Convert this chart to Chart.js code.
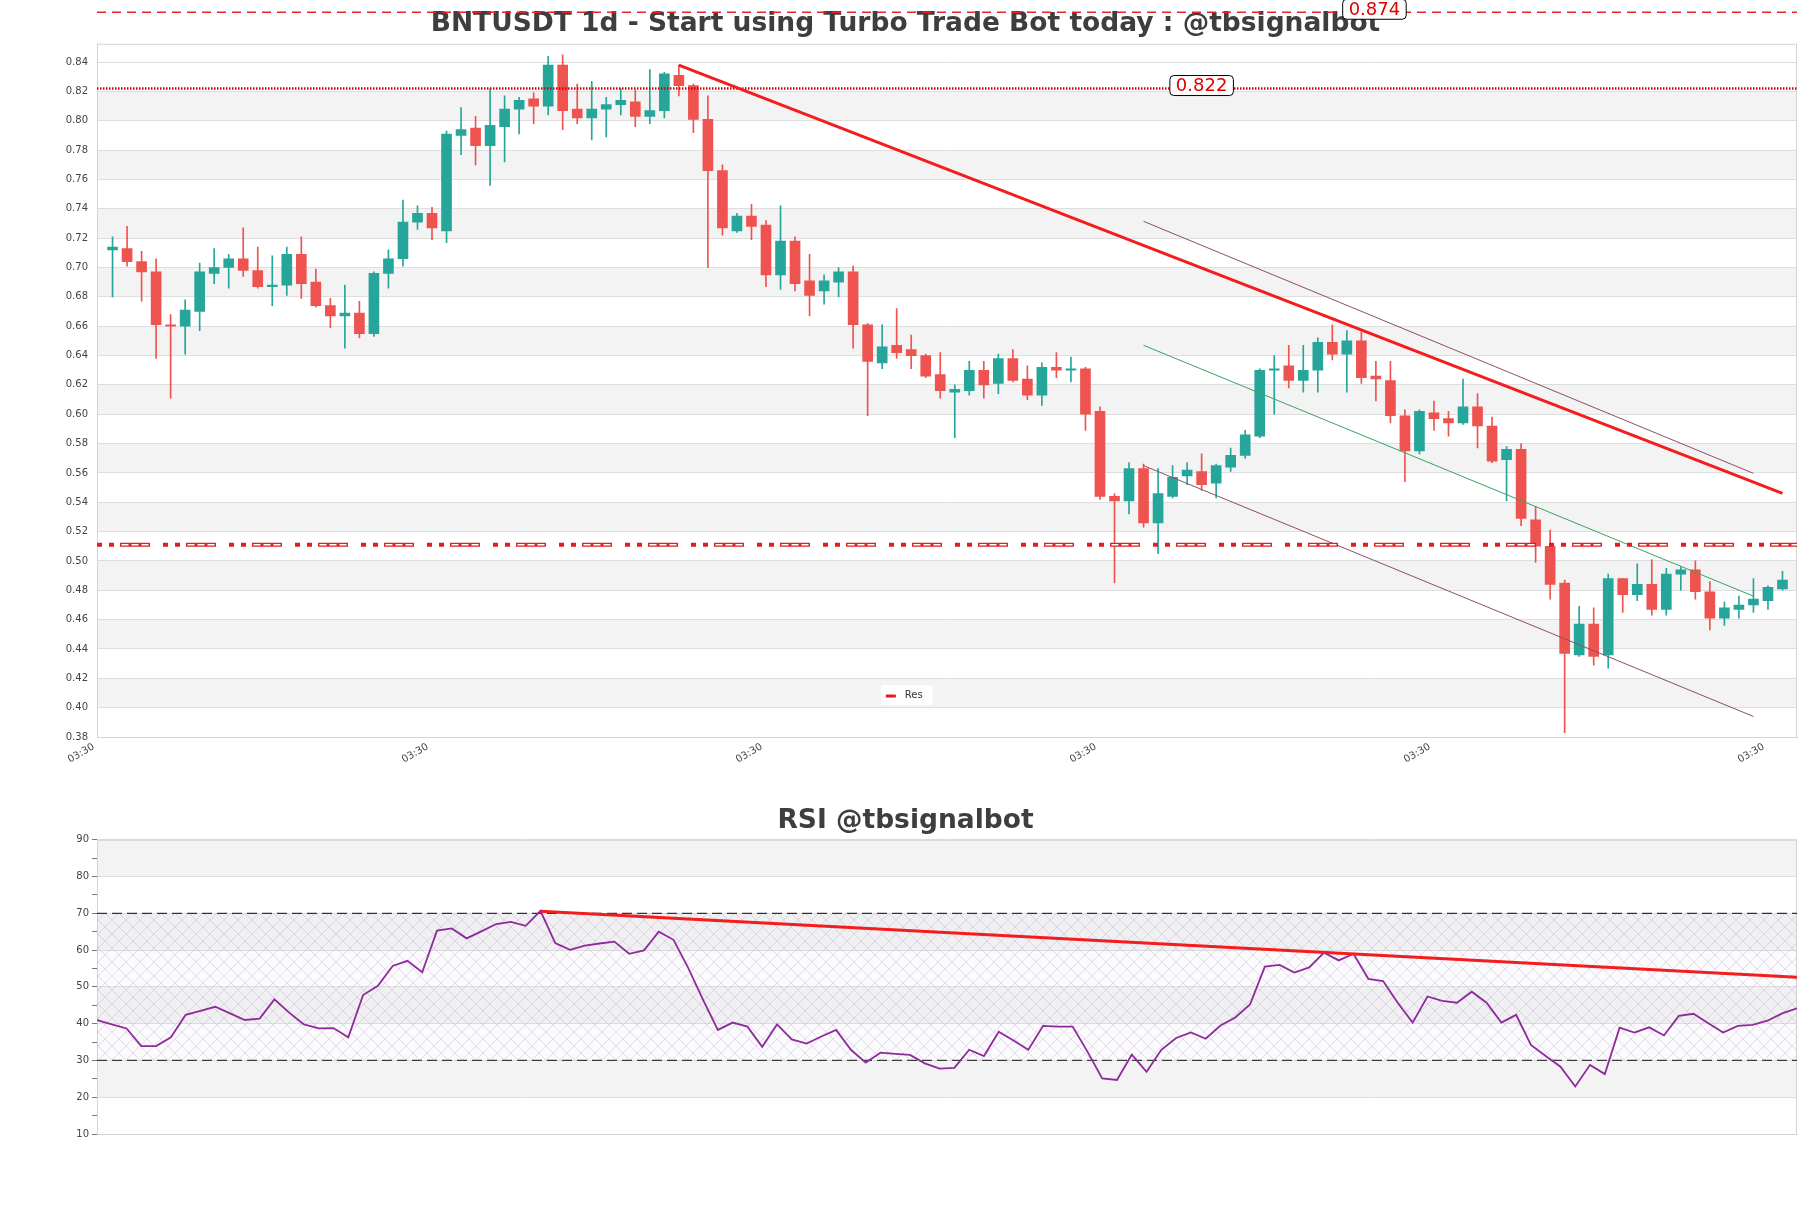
<!DOCTYPE html>
<html>
<head>
<meta charset="UTF-8">
<title>BNTUSDT 1d</title>
<script src="https://cdn.jsdelivr.net/npm/chart.js@4.4.1/dist/chart.umd.min.js"></script>
<style>
  body { margin: 0; background: #fff; }
  canvas { position: absolute; left: 0; }
  #priceChart { top: 0; }
  #rsiChart { top: 780px; }
</style>
</head>
<body>
<canvas id="priceChart" width="1811" height="780"></canvas>
<canvas id="rsiChart" width="1811" height="428"></canvas>
<script>
// daily candles
const opens = [0.712,0.713,0.704,0.697,0.661,0.660,0.670,0.696,0.700,0.706,0.698,0.687,0.688,0.709,0.690,0.674,0.667,0.669,0.655,0.696,
  0.706,0.731,0.737,0.725,0.790,0.795,0.783,0.796,0.808,0.815,0.810,0.838,0.808,0.802,0.808,0.811,0.813,0.803,0.807,0.831,
  0.824,0.801,0.766,0.725,0.735,0.729,0.695,0.718,0.691,0.684,0.690,0.697,0.661,0.635,0.647,0.644,0.640,0.627,0.615,0.616,
  0.630,0.621,0.638,0.624,0.613,0.632,0.630,0.631,0.602,0.544,0.541,0.563,0.526,0.544,0.558,0.561,0.553,0.564,0.572,0.585,
  0.630,0.633,0.623,0.630,0.649,0.641,0.650,0.626,0.623,0.599,0.575,0.601,0.597,0.594,0.605,0.592,0.569,0.576,0.528,0.510,
  0.485,0.436,0.457,0.436,0.488,0.477,0.484,0.467,0.491,0.494,0.479,0.461,0.467,0.470,0.473,0.481];
const highs = [0.721,0.728,0.711,0.706,0.668,0.678,0.703,0.713,0.709,0.727,0.714,0.708,0.714,0.721,0.699,0.679,0.688,0.677,0.697,0.712,
  0.746,0.742,0.741,0.793,0.809,0.803,0.822,0.817,0.816,0.819,0.844,0.845,0.825,0.827,0.816,0.822,0.821,0.835,0.833,0.838,
  0.825,0.817,0.770,0.737,0.743,0.732,0.742,0.721,0.709,0.695,0.700,0.701,0.662,0.661,0.672,0.654,0.641,0.642,0.620,0.636,
  0.636,0.641,0.644,0.633,0.635,0.642,0.639,0.632,0.605,0.546,0.567,0.566,0.563,0.565,0.567,0.573,0.566,0.577,0.589,0.631,
  0.640,0.647,0.647,0.652,0.661,0.657,0.656,0.636,0.636,0.603,0.603,0.609,0.602,0.624,0.614,0.598,0.578,0.580,0.537,0.521,
  0.487,0.469,0.468,0.491,0.488,0.498,0.501,0.495,0.496,0.500,0.486,0.472,0.476,0.488,0.483,0.493];
const lows = [0.680,0.701,0.677,0.638,0.611,0.641,0.657,0.689,0.686,0.694,0.686,0.674,0.681,0.679,0.673,0.659,0.645,0.652,0.653,0.686,
  0.701,0.726,0.719,0.717,0.777,0.770,0.756,0.772,0.791,0.798,0.804,0.794,0.798,0.787,0.789,0.804,0.796,0.798,0.802,0.817,
  0.792,0.700,0.722,0.724,0.719,0.687,0.685,0.684,0.667,0.675,0.680,0.645,0.599,0.631,0.638,0.631,0.625,0.611,0.584,0.613,
  0.611,0.614,0.622,0.610,0.606,0.625,0.622,0.589,0.542,0.485,0.532,0.523,0.505,0.543,0.552,0.548,0.543,0.561,0.570,0.584,
  0.600,0.618,0.615,0.615,0.637,0.615,0.621,0.609,0.594,0.554,0.573,0.589,0.585,0.593,0.577,0.567,0.541,0.524,0.499,0.474,
  0.383,0.435,0.429,0.427,0.465,0.473,0.463,0.463,0.480,0.474,0.453,0.456,0.461,0.465,0.467,0.480];
const closes = [0.714,0.704,0.697,0.661,0.660,0.671,0.697,0.700,0.706,0.698,0.687,0.688,0.709,0.689,0.674,0.667,0.669,0.655,0.696,0.706,
  0.731,0.737,0.727,0.791,0.794,0.783,0.797,0.808,0.814,0.810,0.838,0.807,0.802,0.808,0.811,0.814,0.803,0.807,0.832,0.824,
  0.801,0.766,0.727,0.735,0.728,0.695,0.718,0.689,0.681,0.691,0.697,0.661,0.636,0.646,0.642,0.640,0.626,0.616,0.617,0.630,
  0.620,0.638,0.623,0.613,0.632,0.630,0.631,0.600,0.544,0.541,0.563,0.526,0.546,0.557,0.562,0.552,0.565,0.572,0.586,0.630,
  0.631,0.623,0.630,0.649,0.641,0.650,0.625,0.624,0.599,0.575,0.602,0.597,0.594,0.605,0.592,0.568,0.576,0.529,0.510,0.484,
  0.437,0.457,0.435,0.488,0.477,0.484,0.467,0.491,0.494,0.479,0.461,0.468,0.470,0.474,0.482,0.487];

const rsiValues = [41.0,39.8,38.7,33.9,33.9,36.3,42.4,43.5,44.6,42.8,41.0,41.4,46.6,43.0,39.8,38.7,38.8,36.3,47.8,50.3,
  55.7,57.1,54.0,65.3,65.9,63.2,65.1,67.1,67.7,66.6,70.7,61.9,60.1,61.2,61.8,62.3,59.0,59.9,65.0,62.8,
  55.1,46.5,38.3,40.3,39.2,33.7,39.8,35.7,34.6,36.5,38.3,32.9,29.4,32.1,31.8,31.5,29.2,27.8,28.0,32.9,
  31.2,37.8,35.4,32.9,39.4,39.2,39.2,32.4,25.1,24.7,31.6,26.9,32.9,36.1,37.6,35.9,39.5,41.7,45.2,55.5,
  56.0,53.9,55.3,59.3,57.2,59.0,52.2,51.6,45.6,40.3,47.4,46.2,45.7,48.7,45.7,40.3,42.4,34.2,31.2,28.3,
  22.9,28.8,26.3,38.9,37.6,39.0,36.8,42.1,42.7,40.1,37.6,39.4,39.7,40.8,42.8,44.2];

// axis ticks
const xTickPos = [-1.3, 21.7, 44.7, 67.7, 90.7, 113.7];
const xTickLabels = ['03:30', '03:30', '03:30', '03:30', '03:30', '03:30'];
const xMin = -1.07, xMax = 116.0;

// drawn levels and trend lines
const levels = [0.874, 0.822, 0.511];
const levelLabelX = [86.9, 75.0];
const resX = [39, 115], resY = [0.838, 0.546];
const chanX = [71, 113];
const chanUpper = [0.7315, 0.5597];
const chanMid = [0.647, 0.476];
const chanLower = [0.565, 0.394];
const rsiTrendX = [30, 115], rsiTrendY = [70.6, 52.6];
const rsiBounds = [30, 70];

Chart.defaults.font.family = "'DejaVu Sans', sans-serif";
Chart.defaults.color = '#444';

const UP = '#26a69a', DOWN = '#ef5350';
const idx = opens.map((_, i) => i);
const candleColor = idx.map(i => closes[i] >= opens[i] ? UP : DOWN);

function pts(xs, ys) { return xs.map((x, i) => ({ x: x, y: ys[i] })); }
function flat(v, a, b) { return [{ x: a, y: v }, { x: b, y: v }]; }

// white background + alternating grey bands between ticks, frame round the plot
const bands = {
  id: 'bands',
  beforeDraw(chart, args, opts) {
    const ctx = chart.ctx, a = chart.chartArea, y = chart.scales.y;
    ctx.save();
    ctx.fillStyle = '#fff';
    ctx.fillRect(0, 0, chart.width, chart.height);
    ctx.fillStyle = '#f3f3f3';
    for (let v = opts.from; v < opts.to - 1e-9; v += opts.step) {
      if (Math.round(v / opts.step) % 2 !== 0) continue;
      const y0 = y.getPixelForValue(v), y1 = y.getPixelForValue(v + opts.step);
      ctx.fillRect(a.left, y1, a.right - a.left, y0 - y1);
    }
    ctx.restore();
  },
  beforeDatasetsDraw(chart) {
    const ctx = chart.ctx, a = chart.chartArea;
    ctx.save();
    ctx.strokeStyle = '#d4d4d4';
    ctx.lineWidth = 1;
    ctx.strokeRect(a.left + 0.5, a.top + 0.5, a.right - a.left - 1, a.bottom - a.top);
    ctx.restore();
  }
};

// boxed price labels and the small "Res" legend
const priceNotes = {
  id: 'priceNotes',
  afterDraw(chart) {
    const ctx = chart.ctx, x = chart.scales.x, y = chart.scales.y;
    ctx.save();
    ctx.font = "18px 'DejaVu Sans'";
    ctx.textAlign = 'center';
    ctx.textBaseline = 'middle';
    levelLabelX.forEach((lx, i) => {
      const txt = levels[i].toFixed(3);
      const cx = x.getPixelForValue(lx), cy = y.getPixelForValue(levels[i]) - 3;
      const w = ctx.measureText(txt).width + 12, h = 20;
      ctx.beginPath();
      ctx.roundRect(cx - w / 2, cy - h / 2, w, h, 4);
      ctx.fillStyle = '#fff';
      ctx.fill();
      ctx.strokeStyle = '#000';
      ctx.lineWidth = 1;
      ctx.stroke();
      ctx.fillStyle = '#e00000';
      ctx.fillText(txt, cx, cy + 1);
    });
    // legend
    const lx = x.getPixelForValue(54.7), ly = y.getPixelForValue(0.4086);
    ctx.fillStyle = 'rgba(255,255,255,0.9)';
    ctx.fillRect(lx - 26, ly - 10, 52, 20);
    ctx.strokeStyle = '#e01b1b';
    ctx.lineWidth = 3;
    ctx.beginPath();
    ctx.moveTo(lx - 21, ly + 1);
    ctx.lineTo(lx - 11, ly + 1);
    ctx.stroke();
    ctx.font = "10px 'DejaVu Sans'";
    ctx.textAlign = 'left';
    ctx.fillStyle = '#333';
    ctx.fillText('Res', lx - 2, ly);
    ctx.restore();
  }
};

const lineBase = { type: 'line', pointRadius: 0, tension: 0, fill: false, borderCapStyle: 'butt' };
// empty right-hand axis only used as the right margin
const rightMargin = {
  type: 'linear', position: 'right', afterFit: s => { s.width = 14; },
  ticks: { display: false }, grid: { display: false, drawTicks: false }, border: { display: false }
};

new Chart(document.getElementById('priceChart'), {
  type: 'bar',
  data: {
    datasets: [
      Object.assign({}, lineBase, { label: 'Res', data: pts(resX, resY), borderColor: '#f41c1c', borderWidth: 3, order: 0 }),
      Object.assign({}, lineBase, { label: 'lvl3w', data: flat(levels[2], xMin, xMax), borderColor: '#fff', borderWidth: 1.6,
        borderDash: [7, 3, 7, 3, 7, 39], borderDashOffset: 41.5, order: 1 }),
      Object.assign({}, lineBase, { label: 'lvl3', data: flat(levels[2], xMin, xMax), borderColor: '#e02020', borderWidth: 4,
        borderDash: [5, 7, 5, 6, 30, 13], order: 2 }),
      Object.assign({}, lineBase, { label: 'lvl2', data: flat(levels[1], xMin, xMax), borderColor: '#d90000', borderWidth: 2.5,
        borderDash: [1.5, 1.5], order: 2 }),
      Object.assign({}, lineBase, { label: 'lvl1', data: flat(levels[0], xMin, xMax), borderColor: '#e52525', borderWidth: 1.5,
        borderDash: [9, 6], clip: false, order: 2 }),
      Object.assign({}, lineBase, { label: 'upper', data: pts(chanX, chanUpper), borderColor: '#8d4f61', borderWidth: 1, order: 2 }),
      Object.assign({}, lineBase, { label: 'mid', data: pts(chanX, chanMid), borderColor: '#3aa362', borderWidth: 1, order: 2 }),
      Object.assign({}, lineBase, { label: 'lower', data: pts(chanX, chanLower), borderColor: '#8d4f61', borderWidth: 1, order: 2 }),
      {
        label: 'body', data: idx.map(i => ({ x: i, y: [opens[i], closes[i]] })),
        backgroundColor: candleColor, borderWidth: 0, barThickness: 10, minBarLength: 1, grouped: false, order: 3
      },
      {
        label: 'wick', data: idx.map(i => ({ x: i, y: [lows[i], highs[i]] })),
        backgroundColor: candleColor, borderWidth: 0, barThickness: 1, grouped: false, order: 4
      }
    ]
  },
  options: {
    responsive: false,
    animation: false,
    events: [],
    layout: { padding: 0 },
    plugins: {
      legend: { display: false },
      tooltip: { enabled: false },
      title: {
        display: true,
        text: 'BNTUSDT 1d - Start using Turbo Trade Bot today : @tbsignalbot',
        font: { size: 26.5, weight: 'bold' },
        color: '#3e3e3e',
        padding: { top: 8, bottom: 4 }
      },
      bands: { from: 0.38, to: 0.84, step: 0.02 }
    },
    scales: {
      x: {
        type: 'linear', min: xMin, max: xMax, offset: false,
        afterBuildTicks: s => { s.ticks = xTickPos.map(v => ({ value: v })); },
        afterFit: s => { s.height = 43; },
        ticks: { autoSkip: false, minRotation: 30, maxRotation: 30, padding: 4, font: { size: 10 }, color: '#444',
          callback: (v, i) => xTickLabels[i] },
        grid: { display: false, drawTicks: false },
        border: { color: '#d4d4d4' }
      },
      y: {
        min: 0.38, max: 0.8525,
        afterFit: s => { s.width = 97; },
        ticks: { stepSize: 0.02, includeBounds: false, padding: 9, font: { size: 10 }, color: '#444',
          callback: v => v.toFixed(2) },
        grid: { color: '#dedede', drawTicks: false },
        border: { color: '#d4d4d4' }
      },
      yMargin: rightMargin
    }
  },
  plugins: [bands, priceNotes]
});

// crosshatch for the 30-70 zone
const hatchCanvas = document.createElement('canvas');
hatchCanvas.width = 14; hatchCanvas.height = 14;
const hc = hatchCanvas.getContext('2d');
hc.fillStyle = 'rgba(200,185,220,0.08)';
hc.fillRect(0, 0, 14, 14);
hc.strokeStyle = 'rgba(165,145,185,0.35)';
hc.lineWidth = 0.8;
hc.beginPath();
hc.moveTo(0, 0); hc.lineTo(14, 14);
hc.moveTo(14, 0); hc.lineTo(0, 14);
hc.stroke();
const hatch = hc.createPattern(hatchCanvas, 'repeat');

const rsiLast = rsiValues.length - 1;

new Chart(document.getElementById('rsiChart'), {
  type: 'line',
  data: {
    datasets: [
      Object.assign({}, lineBase, { label: 'trend', data: pts(rsiTrendX, rsiTrendY), borderColor: '#f41c1c', borderWidth: 3, order: 0 }),
      Object.assign({}, lineBase, { label: 'RSI', data: rsiValues.map((v, i) => ({ x: i, y: v })), borderColor: '#8e2a9c', borderWidth: 1.8, order: 1 }),
      Object.assign({}, lineBase, { label: 'ob', data: flat(rsiBounds[1], 0, rsiLast), borderColor: '#333', borderWidth: 1.2,
        borderDash: [10, 5], fill: { value: rsiBounds[0] }, backgroundColor: hatch, order: 2 }),
      Object.assign({}, lineBase, { label: 'os', data: flat(rsiBounds[0], 0, rsiLast), borderColor: '#333', borderWidth: 1.2,
        borderDash: [10, 5], order: 2 })
    ]
  },
  options: {
    responsive: false,
    animation: false,
    events: [],
    layout: { padding: 0 },
    plugins: {
      legend: { display: false },
      tooltip: { enabled: false },
      title: {
        display: true,
        text: 'RSI @tbsignalbot',
        font: { size: 26.5, weight: 'bold' },
        color: '#3e3e3e',
        padding: { top: 25, bottom: 3 }
      },
      bands: { from: 10, to: 90, step: 10 }
    },
    scales: {
      x: {
        type: 'linear', min: 0, max: rsiLast,
        afterFit: s => { s.height = 74; },
        ticks: { display: false },
        grid: { display: false, drawTicks: false },
        border: { color: '#d4d4d4' }
      },
      y: {
        min: 10, max: 90,
        afterFit: s => { s.width = 97; },
        ticks: { stepSize: 5, autoSkip: false, padding: 3, font: { size: 10 }, color: '#444',
          callback: v => (v % 10 === 0 ? v : '') },
        grid: {
          color: c => (c.tick && c.tick.value % 10 === 0 ? '#dedede' : 'rgba(0,0,0,0)'),
          tickColor: '#777', tickLength: 5
        },
        border: { color: '#d4d4d4' }
      },
      yMargin: rightMargin
    }
  },
  plugins: [bands]
});
</script>
</body>
</html>
